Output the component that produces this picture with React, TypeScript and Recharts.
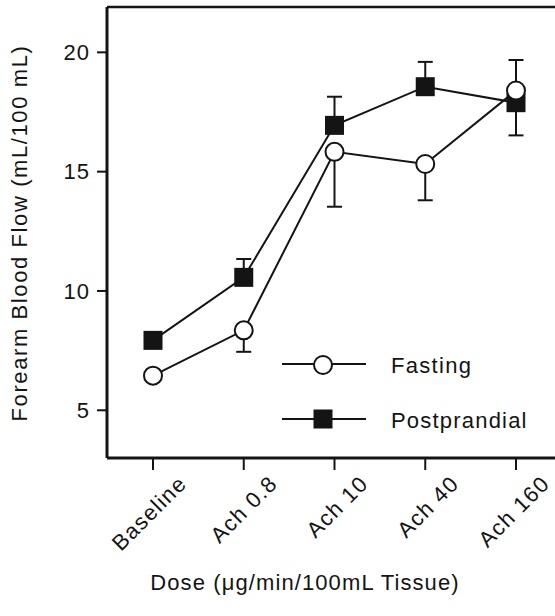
import React from "react";
import { LineChart, Line, XAxis, YAxis, ErrorBar, ReferenceLine, Legend } from "recharts";

const INK = "#141414";
const FONT = "'Liberation Sans', Arial, Helvetica, sans-serif";

const doses = ["Baseline", "Ach 0.8", "Ach 10", "Ach 40", "Ach 160"];
const fasting = [6.45, 8.35, 15.83, 15.32, 18.4];
const fastingErr = [0, 0.9, 2.3, 1.52, 1.88];
const postprandial = [7.93, 10.57, 16.94, 18.56, 17.89];
const postprandialErr = [0, 0.77, 1.2, 1.04, 1.79];
const yTicks = [5, 10, 15, 20];
const yDomain = [3, 21.9];

// fasting bars hang below the point, postprandial bars point up
const data = doses.map((dose, i) => ({
  dose,
  fasting: fasting[i],
  fastingErr: [fastingErr[i], 0],
  postprandial: postprandial[i],
  postprandialErr: [0, postprandialErr[i]],
}));

const W = 570;
const H = 616;
const MARGIN = { top: 7, right: 8, left: 0, bottom: 8 };

const CircleDot = (props: any) => {
  const { cx, cy, index } = props;
  return <circle key={`f-${index}`} cx={cx} cy={cy} r={9} fill="#fff" stroke={INK} strokeWidth={2} />;
};

const SquareDot = (props: any) => {
  const { cx, cy, index } = props;
  return <rect key={`p-${index}`} x={cx - 9.5} y={cy - 9.5} width={19} height={19} fill={INK} />;
};

const DoseTick = (props: any) => {
  const { x, y, payload } = props;
  const ax = x + 35;
  const ay = y + 13;
  return (
    <text
      x={ax}
      y={ay}
      transform={`rotate(-45 ${ax} ${ay})`}
      textAnchor="end"
      fontSize={22}
      letterSpacing={1.3}
      fontFamily={FONT}
      fill={INK}
    >
      {payload.value}
    </text>
  );
};

const YTitle = () => (
  <text
    x={27}
    y={233}
    transform="rotate(-90 27 233)"
    textAnchor="middle"
    fontSize={22}
    letterSpacing={1.6}
    fontFamily={FONT}
    fill={INK}
  >
    Forearm Blood Flow (mL/100 mL)
  </text>
);

const XTitle = () => (
  <text x={305} y={590} textAnchor="middle" fontSize={22} letterSpacing={1.1} fontFamily={FONT} fill={INK}>
    Dose (μg/min/100mL Tissue)
  </text>
);

const LegendBox = () => (
  <svg width={270} height={100} style={{ overflow: "visible" }}>
    <line x1={2} x2={86} y1={24} y2={24} stroke={INK} strokeWidth={2} />
    <circle cx={43} cy={25} r={9} fill="#fff" stroke={INK} strokeWidth={2} />
    <text x={111} y={33} fontSize={22} letterSpacing={1.3} fontFamily={FONT} fill={INK}>
      Fasting
    </text>
    <line x1={2} x2={86} y1={79} y2={79} stroke={INK} strokeWidth={2} />
    <rect x={33.5} y={69.5} width={19} height={19} fill={INK} />
    <text x={111} y={88} fontSize={22} letterSpacing={1.2} fontFamily={FONT} fill={INK}>
      Postprandial
    </text>
  </svg>
);

// second chart with the same scales, only used to put markers above the error bars
function MarkerLayer() {
  return (
    <LineChart width={W} height={H} data={data} margin={MARGIN}>
      <XAxis dataKey="dose" scale="point" padding={{ left: 46, right: 46 }} height={150} axisLine={false} tickLine={false} tick={false} />
      <YAxis type="number" domain={yDomain} ticks={yTicks} allowDataOverflow width={107} axisLine={false} tickLine={false} tick={false} />
      <Line dataKey="postprandial" stroke="none" dot={SquareDot} activeDot={false} isAnimationActive={false} />
      <Line dataKey="fasting" stroke="none" dot={CircleDot} activeDot={false} isAnimationActive={false} />
    </LineChart>
  );
}

export default function App() {
  return (
    <div
      style={{
        position: "absolute",
        left: 0,
        top: 0,
        width: 555,
        height: 616,
        overflow: "hidden",
        background: "#fff",
      }}
    >
      <LineChart width={W} height={H} data={data} margin={MARGIN}>
        <XAxis
          dataKey="dose"
          scale="point"
          padding={{ left: 46, right: 46 }}
          height={150}
          axisLine={{ stroke: INK, strokeWidth: 3 }}
          tickLine={{ stroke: INK, strokeWidth: 2 }}
          tickSize={12}
          tick={<DoseTick />}
          interval={0}
          label={<XTitle />}
        />
        <YAxis
          type="number"
          domain={yDomain}
          ticks={yTicks}
          allowDataOverflow
          width={107}
          axisLine={{ stroke: INK, strokeWidth: 3 }}
          tickLine={{ stroke: INK, strokeWidth: 2 }}
          tickSize={10}
          tickMargin={7}
          tick={{ fontSize: 22, fill: INK, fontFamily: FONT, letterSpacing: 1 }}
          label={<YTitle />}
        />
        <ReferenceLine y={yDomain[1]} stroke={INK} strokeWidth={2.5} ifOverflow="visible" />
        <Legend
          layout="horizontal"
          verticalAlign="middle"
          align="center"
          content={<LegendBox />}
          wrapperStyle={{ position: "absolute", left: 280, top: 340, width: 270, height: 100 }}
        />
        <Line dataKey="postprandial" stroke={INK} strokeWidth={2} dot={false} activeDot={false} isAnimationActive={false}>
          <ErrorBar dataKey="postprandialErr" direction="y" width={7.5} stroke={INK} strokeWidth={2} />
        </Line>
        <Line dataKey="fasting" stroke={INK} strokeWidth={2} dot={false} activeDot={false} isAnimationActive={false}>
          <ErrorBar dataKey="fastingErr" direction="y" width={7.5} stroke={INK} strokeWidth={2} />
        </Line>
      </LineChart>
      <div style={{ position: "absolute", left: 0, top: 0, pointerEvents: "none" }}>
        <MarkerLayer />
      </div>
    </div>
  );
}
